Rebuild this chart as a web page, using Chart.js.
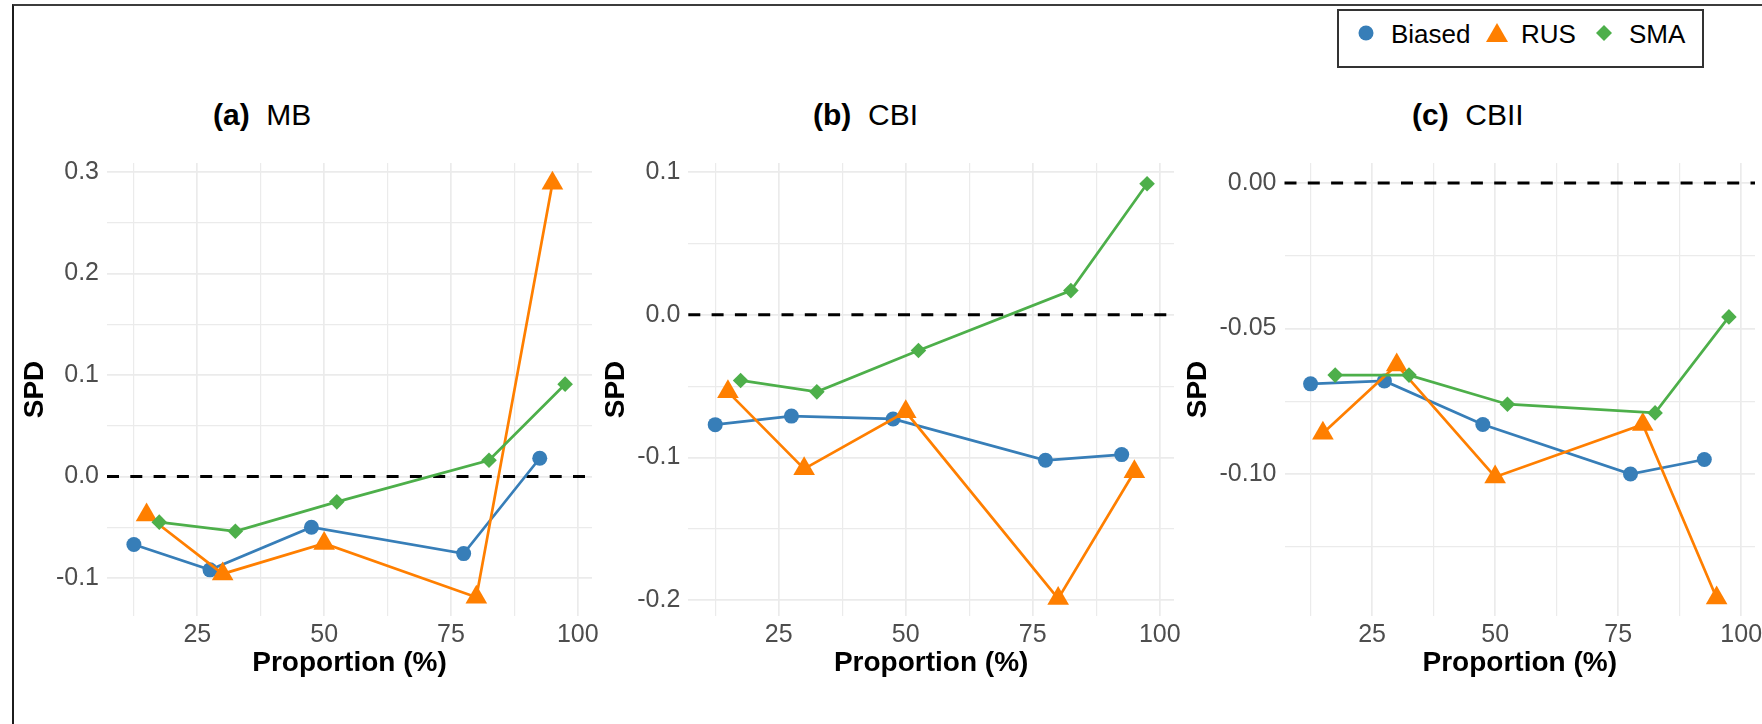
<!DOCTYPE html>
<html><head><meta charset="utf-8">
<script src="https://cdn.jsdelivr.net/npm/chart.js@4.4.1/dist/chart.umd.min.js"></script>
<style>
html,body{margin:0;padding:0;background:#fff;width:1762px;height:724px;overflow:hidden;font-family:"Liberation Sans",Arial,sans-serif}
#page{position:relative;width:1762px;height:724px;overflow:hidden}
#frame{position:absolute;left:12px;top:4px;width:1800px;height:800px;border-top:2px solid #3c3c3c;border-left:2px solid #1c1c1c}
canvas{position:absolute}
.title{position:absolute;font-size:30px;line-height:30px;white-space:pre;color:#000}
#legend{position:absolute;left:1337px;top:9px;width:363px;height:55px;border:2px solid #333}
.li{position:absolute;font-size:26px;line-height:26px;color:#000;white-space:pre}
svg{position:absolute}
</style></head>
<body><div id="page">
<div id="frame"></div>
<canvas id="cA" width="640" height="584" style="left:0px;top:140px"></canvas>
<canvas id="cB" width="640" height="584" style="left:580px;top:140px"></canvas>
<canvas id="cC" width="640" height="584" style="left:1162px;top:140px"></canvas>
<div class="title" style="left:213px;top:99.6px"><b>(a)</b>  MB</div>
<div class="title" style="left:813px;top:99.6px"><b>(b)</b>  CBI</div>
<div class="title" style="left:1412px;top:99.6px"><b>(c)</b>  CBII</div>
<div id="legend"></div>
<svg width="18" height="18" style="left:1357px;top:24px"><circle cx="9" cy="9" r="7.5" fill="#377EB8"/></svg>
<div class="li" style="left:1391px;top:20.7px">Biased</div>
<svg width="24" height="22" style="left:1485px;top:22px"><polygon points="12,1 23,20 1,20" fill="#FF7F00"/></svg>
<div class="li" style="left:1521px;top:20.7px">RUS</div>
<svg width="20" height="20" style="left:1594px;top:23px"><polygon points="10,2 18,10 10,18 2,10" fill="#4DAF4A"/></svg>
<div class="li" style="left:1629px;top:20.7px">SMA</div>
</div>
<script>
// ---- data ----
const seriesNames = ['Biased', 'RUS', 'SMA'];
const xBiased = [12.5, 27.5, 47.5, 77.5, 92.5];
const xRUS = [15, 30, 50, 80, 95];
const xSMA = [17.5, 32.5, 52.5, 82.5, 97.5];

const mbBiased = [-0.067, -0.092, -0.050, -0.076, 0.018];
const mbRUS = [-0.038, -0.096, -0.066, -0.119, 0.289];
const mbSMA = [-0.045, -0.054, -0.025, 0.016, 0.091];

const cbiBiased = [-0.077, -0.071, -0.073, -0.102, -0.098];
const cbiRUS = [-0.054, -0.108, -0.068, -0.199, -0.110];
const cbiSMA = [-0.046, -0.054, -0.025, 0.017, 0.092];

const cbiiBiased = [-0.069, -0.068, -0.083, -0.100, -0.095];
const cbiiRUS = [-0.086, -0.0625, -0.101, -0.083, -0.1426];
const cbiiSMA = [-0.066, -0.066, -0.076, -0.079, -0.046];

const xTicks = [25, 50, 75, 100];
const xTickLabels = ['25', '50', '75', '100'];
const xMinor = [12.5, 37.5, 62.5, 87.5];

const yTicksMB = [-0.1, 0, 0.1, 0.2, 0.3];
const yLabelsMB = ['-0.1', '0.0', '0.1', '0.2', '0.3'];
const yMinorMB = [-0.05, 0.05, 0.15, 0.25];

const yTicksCBI = [-0.2, -0.1, 0, 0.1];
const yLabelsCBI = ['-0.2', '-0.1', '0.0', '0.1'];
const yMinorCBI = [-0.15, -0.05, 0.05];

const yTicksCBII = [-0.10, -0.05, 0];
const yLabelsCBII = ['-0.10', '-0.05', '0.00'];
const yMinorCBII = [-0.125, -0.075, -0.025];

// ---- styling ----
const COLORS = ['#377EB8', '#FF7F00', '#4DAF4A'];
const STYLES = ['circle', 'triangle', 'rectRot'];
const RADII = [7.5, 12.5, 7.8];
const FONT = '"Liberation Sans", Arial, sans-serif';

const zeroLine = {
  id: 'zeroLine',
  beforeDatasetsDraw(chart) {
    const {ctx, chartArea, scales} = chart;
    const py = scales.y.getPixelForValue(0);
    ctx.save();
    ctx.strokeStyle = '#000';
    ctx.lineWidth = 3;
    ctx.setLineDash([12, 11.3]);
    ctx.beginPath();
    ctx.moveTo(chartArea.left, py);
    ctx.lineTo(chartArea.right, py);
    ctx.stroke();
    ctx.restore();
  }
};

function pts(xs, ys) { return xs.map((x, i) => ({x: x, y: ys[i]})); }

function tickList(major, minor) {
  return major.map(v => ({value: v})).concat(minor.map(v => ({value: v, minor: true})))
    .sort((a, b) => a.value - b.value);
}
function labelFor(major, labels) {
  return (value) => {
    const i = major.findIndex(m => Math.abs(m - value) < 1e-9);
    return i >= 0 ? labels[i] : '';
  };
}

function makePanel(id, ys, yMajor, yLabels, yMinor, yMin, yMax, yAxisWidth, yTitlePad, padRight) {
  const xs = [xBiased, xRUS, xSMA];
  const datasets = ys.map((arr, k) => ({
    label: seriesNames[k],
    data: pts(xs[k], arr),
    borderColor: COLORS[k],
    backgroundColor: COLORS[k],
    borderWidth: 2.7,
    pointStyle: STYLES[k],
    pointRadius: RADII[k],
    pointBackgroundColor: COLORS[k],
    pointBorderWidth: 0,
    pointHoverRadius: RADII[k],
    tension: 0,
    order: 3 - k,
    clip: false
  }));
  const gridColor = (ctx) => '#EBEBEB';
  const gridWidth = (ctx) => (ctx.tick && ctx.tick.minor) ? 1.2 : 1.7;
  new Chart(document.getElementById(id), {
    type: 'line',
    data: {datasets},
    plugins: [zeroLine],
    options: {
      responsive: false,
      animation: false,
      devicePixelRatio: 1,
      layout: {padding: {top: 0, right: padRight, bottom: 0, left: 0}},
      plugins: {legend: {display: false}, tooltip: {enabled: false}},
      scales: {
        x: {
          type: 'linear', position: 'bottom', min: 7.2, max: 102.8,
          afterBuildTicks: (s) => { s.ticks = tickList(xTicks, xMinor); },
          afterFit: (s) => { s.height = 108; },
          ticks: {autoSkip: false, maxRotation: 0, padding: 4, color: '#4D4D4D',
                  font: {family: FONT, size: 25}, callback: labelFor(xTicks, xTickLabels)},
          grid: {drawTicks: false, color: gridColor, lineWidth: gridWidth},
          border: {display: false},
          title: {display: true, text: 'Proportion (%)', color: '#000',
                  font: {family: FONT, size: 28, weight: 'bold'}, padding: {top: 0, bottom: 43.5}}
        },
        y: {
          type: 'linear', position: 'left', min: yMin, max: yMax,
          afterBuildTicks: (s) => { s.ticks = tickList(yMajor, yMinor); },
          afterFit: (s) => { s.width = yAxisWidth; },
          ticks: {autoSkip: false, padding: 8, color: '#4D4D4D',
                  font: {family: FONT, size: 25}, callback: labelFor(yMajor, yLabels)},
          grid: {drawTicks: false, color: gridColor, lineWidth: gridWidth},
          border: {display: false},
          title: {display: true, text: 'SPD', color: '#000',
                  font: {family: FONT, size: 28, weight: 'bold'}, padding: {top: yTitlePad, bottom: 0}}
        }
      }
    }
  });
}

makePanel('cA', [mbBiased, mbRUS, mbSMA], yTicksMB, yLabelsMB, yMinorMB, -0.1375, 0.309, 107, 18.6, 48);
makePanel('cB', [cbiBiased, cbiRUS, cbiSMA], yTicksCBI, yLabelsCBI, yMinorCBI, -0.2112, 0.1065, 108.3, 19.2, 46);
makePanel('cC', [cbiiBiased, cbiiRUS, cbiiSMA], yTicksCBII, yLabelsCBII, yMinorCBII, -0.1488, 0.0069, 122.5, 19.2, 47);
</script>
</body></html>
